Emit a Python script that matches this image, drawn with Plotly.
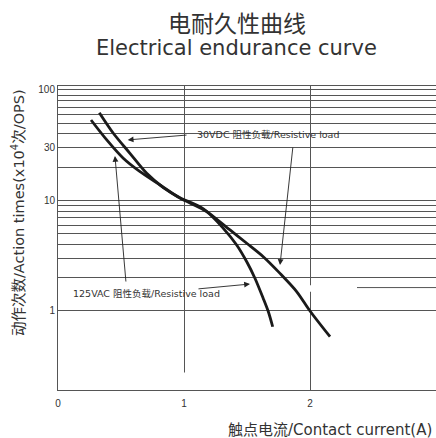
import plotly.graph_objects as go

# ---- data ----
vdc_label = "30VDC 阻性负载/Resistive load"
vdc_current = [0.328, 0.439, 0.571, 0.704, 0.836, 0.968, 1.127, 1.365, 1.498, 1.629, 1.762, 1.894, 2.0, 2.159]
vdc_times = [62.3, 40.6, 26.7, 17.6, 13.1, 10.6, 8.79, 5.41, 4.10, 3.10, 2.19, 1.50, 1.0, 0.585]

vac_label = "125VAC 阻性负载/Resistive load"
vac_current = [0.262, 0.387, 0.518, 0.651, 0.81, 0.968, 1.18, 1.312, 1.418, 1.498, 1.563, 1.629, 1.669, 1.704]
vac_times = [53.5, 35.3, 24.1, 18.2, 13.8, 10.5, 7.92, 5.60, 3.96, 2.79, 1.98, 1.30, 0.99, 0.72]

x_ticks = [0, 1, 2, 3]
y_grid = [1, 2, 3, 4, 5, 6, 7, 8, 9, 10, 20, 30, 40, 50, 60, 70, 80, 90, 100]
y_labeled = [1, 10, 30, 100]

title_cn = "电耐久性曲线"
title_en = "Electrical endurance curve"
x_title = "触点电流/Contact current(A)"
y_title = "动作次数/Action times(x10<sup>4</sup>次/OPS)"

FONT = "DejaVu Sans, Noto Sans CJK SC, sans-serif"
TICKFONT = "Liberation Sans, Arial, sans-serif"
CJK = "Noto Sans CJK SC, sans-serif"
TXT = "#333333"
GRID = "#555555"

fig = go.Figure()
fig.add_trace(go.Scatter(x=vdc_current, y=vdc_times, mode="lines", name=vdc_label,
                         line=dict(color="#1a1a1a", width=2.8, shape="spline", smoothing=0.8),
                         showlegend=False))
fig.add_trace(go.Scatter(x=vac_current, y=vac_times, mode="lines", name=vac_label,
                         line=dict(color="#1a1a1a", width=2.8, shape="spline", smoothing=0.8),
                         showlegend=False))

# white boxes hiding grid behind the labels
fig.add_shape(type="rect", xref="x", yref="y", x0=1.016, x1=2.373, y0=1.49, y1=1.712,
              fillcolor="white", line=dict(width=0), layer="between")
fig.add_shape(type="rect", xref="x", yref="y", x0=0.03, x1=1.357, y0=0.03, y1=0.278,
              fillcolor="white", line=dict(width=0), layer="between")
# stray horizontal line right of the 30VDC label
fig.add_shape(type="line", xref="x", yref="y", x0=2.373, x1=3.0, y0=1.629, y1=1.629,
              line=dict(color=GRID, width=1))

ann_font = dict(family=FONT, size=9.5, color=TXT)
fig.add_annotation(x=1.667, y=1.593, xref="x", yref="y", text=vdc_label, showarrow=False,
                   font=ann_font, xanchor="center", yanchor="middle")
fig.add_annotation(x=0.706, y=0.154, xref="x", yref="y", text=vac_label, showarrow=False,
                   font=ann_font, xanchor="center", yanchor="middle")

arrows = [
    (0.553, 1.548, 1.032, 1.593),
    (1.762, 0.416, 1.865, 1.493),
    (0.452, 1.403, 0.54, 0.253),
    (1.524, 0.244, 1.103, 0.199),
]
for hx, hy, tx, ty in arrows:
    fig.add_annotation(x=hx, y=hy, ax=tx, ay=ty, xref="x", yref="y", axref="x", ayref="y",
                       text="", showarrow=True, arrowhead=2, arrowsize=1.3, arrowwidth=0.9,
                       arrowcolor="#222222")

fig.add_annotation(x=0.4735, y=1.2105, xref="paper", yref="paper", text=title_cn,
                   xanchor="center", yanchor="middle", showarrow=False,
                   font=dict(family=CJK, size=23, color=TXT))
fig.add_annotation(x=0.4735, y=1.125, xref="paper", yref="paper", text=title_en,
                   xanchor="center", yanchor="middle", showarrow=False,
                   font=dict(family=FONT, size=21, color=TXT))
fig.add_annotation(x=0.995, y=-0.1316, xref="paper", yref="paper", text=x_title,
                   xanchor="right", yanchor="middle",
                   showarrow=False, font=dict(family=FONT, size=15, color=TXT))
fig.add_annotation(x=-0.1058, y=0.582, xref="paper", yref="paper", text=y_title, textangle=-90,
                   xanchor="center", yanchor="middle",
                   showarrow=False, font=dict(family=FONT, size=14.5, color=TXT))

fig.update_xaxes(range=[0, 3], tickvals=x_ticks, ticktext=[str(v) for v in x_ticks],
                 showgrid=True, gridcolor=GRID, gridwidth=1, zeroline=False,
                 showline=True, linecolor=GRID, linewidth=1, mirror=True, ticks="",
                 ticklabelstandoff=4,
                 tickfont=dict(family=TICKFONT, size=10, color=TXT))
fig.update_yaxes(type="log", range=[-0.715, 2.036], tickvals=y_grid,
                 ticktext=[str(v) if v in y_labeled else "" for v in y_grid],
                 showgrid=True, gridcolor=GRID, gridwidth=1, zeroline=False,
                 showline=True, linecolor=GRID, linewidth=1, mirror=True, ticks="",
                 tickfont=dict(family=TICKFONT, size=10, color=TXT))

fig.update_layout(width=436, height=438, margin=dict(l=58, r=0, t=86, b=48),
                  paper_bgcolor="white", plot_bgcolor="white")
fig.write_html("out.html", config={"displayModeBar": False},
               post_script="document.body.style.margin='0';")
